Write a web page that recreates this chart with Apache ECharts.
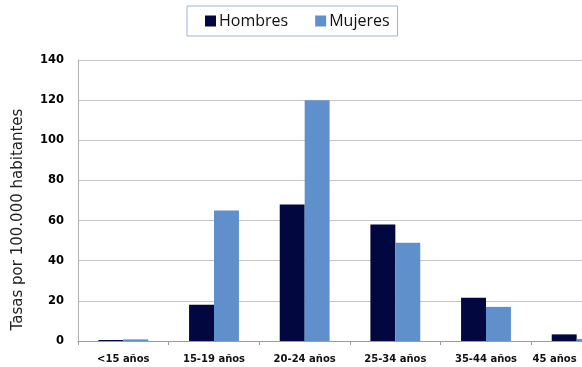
<!DOCTYPE html>
<html>
<head>
<meta charset="utf-8">
<script src="https://cdn.jsdelivr.net/npm/echarts@6/dist/echarts.min.js"></script>
<style>
  html, body { margin: 0; padding: 0; background: #ffffff; }
  #chart { width: 582px; height: 367px; }
</style>
</head>
<body>
<div id="chart"></div>
<script>
// Tasas por 100.000 habitantes, por grupo de edad y sexo
const categories = ['<15 años', '15-19 años', '20-24 años', '25-34 años', '35-44 años', '45 años'];
const hombres = [0.5, 18, 68, 58, 21.5, 3.3];
const mujeres = [0.8, 65, 120, 49, 17, 1];
const yTicks = [0, 20, 40, 60, 80, 100, 120, 140];

const chart = echarts.init(document.getElementById('chart'), null, { renderer: 'canvas' });

// the last group runs past the right edge; keep its label inside the canvas
const catData = categories.map((c, i) =>
  i === categories.length - 1 ? { value: c, textStyle: { align: 'right' } } : c
);

chart.setOption({
  animation: false,
  backgroundColor: '#ffffff',
  legend: {
    top: 6,
    left: 187,
    padding: [7, 8, 7, 18],
    itemGap: 27,
    itemWidth: 11,
    itemHeight: 11,
    borderColor: '#9fb3d6',
    borderWidth: 1,
    icon: 'rect',
    textStyle: { fontFamily: 'Open Sans, Noto Sans, sans-serif', fontSize: 16, color: '#111', padding: [0, 0, 0, -2] },
    data: ['Hombres', 'Mujeres']
  },
  grid: { left: 78, top: 60, width: 544, height: 281, outerBoundsMode: 'none', containLabel: false },
  xAxis: {
    type: 'category',
    data: catData,
    axisLine: { lineStyle: { color: '#9a9a9a', width: 1 } },
    axisTick: { show: true, length: 4, lineStyle: { color: '#9a9a9a' } },
    axisLabel: {
      fontFamily: 'DejaVu Sans, sans-serif',
      fontWeight: 700,
      fontSize: 10,
      color: '#111',
      margin: 13,
      interval: 0
    }
  },
  yAxis: {
    type: 'value',
    min: 0,
    max: 140,
    interval: 20,
    name: 'Tasas por 100.000 habitantes',
    nameLocation: 'middle',
    nameRotate: 90,
    nameGap: 52,
    nameTextStyle: { fontFamily: 'DejaVu Sans, sans-serif', fontSize: 15, color: '#222', padding: [0, 38, 0, 0] },
    axisLine: { show: true, lineStyle: { color: '#b0b0b0' } },
    axisTick: { show: false },
    splitLine: { lineStyle: { color: '#c4c4c4', width: 1 } },
    axisLabel: {
      fontFamily: 'DejaVu Sans, sans-serif',
      fontWeight: 700,
      fontSize: 11.5,
      color: '#000',
      margin: 14,
      formatter: v => (yTicks.includes(v) ? String(v) : '')
    }
  },
  series: [
    {
      name: 'Hombres',
      type: 'bar',
      data: hombres,
      barGap: '0%',
      barCategoryGap: '45%',
      itemStyle: { color: '#03073f' }
    },
    {
      name: 'Mujeres',
      type: 'bar',
      data: mujeres,
      barGap: '0%',
      barCategoryGap: '45%',
      itemStyle: { color: '#6090cc' }
    }
  ]
});
</script>
</body>
</html>
